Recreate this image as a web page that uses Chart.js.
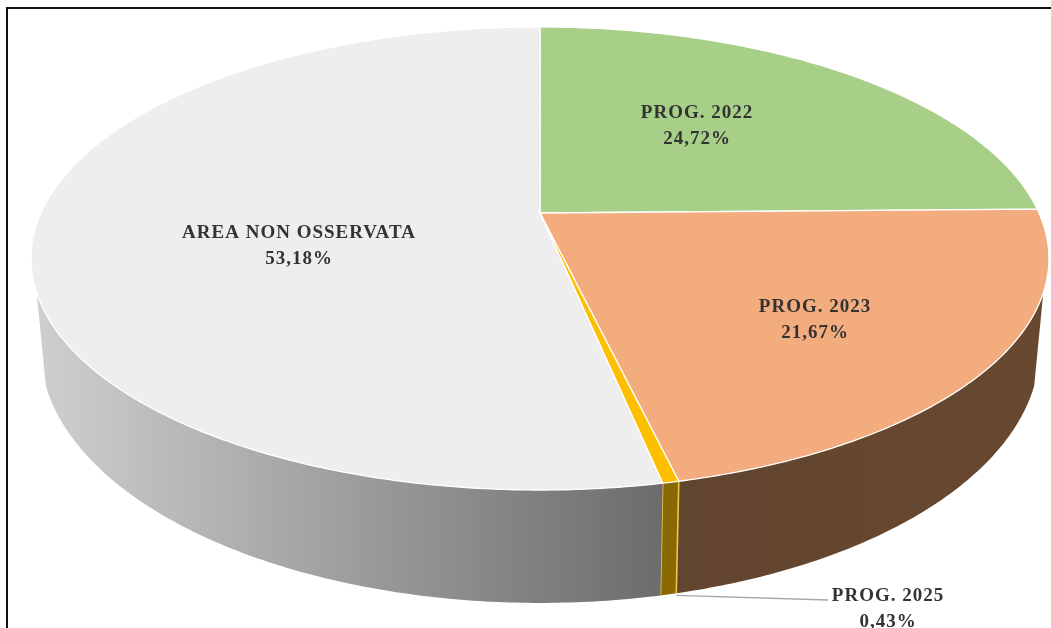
<!DOCTYPE html>
<html>
<head>
<meta charset="utf-8">
<script src="https://cdn.jsdelivr.net/npm/chart.js@4/dist/chart.umd.min.js"></script>
<style>
html,body{margin:0;padding:0;background:#fff;width:1051px;height:628px;overflow:hidden}
#wrap{position:relative;width:1051px;height:628px}
canvas{position:absolute;left:0;top:0;filter:blur(0.65px)}
#frame{position:absolute;left:6px;top:7px;width:1043px;height:630px;border:2px solid #111;box-sizing:content-box}
</style>
</head>
<body>
<div id="wrap"><canvas id="c" width="1051" height="628"></canvas><div id="frame"></div></div>
<script>
const categories = ['PROG. 2022', 'PROG. 2023', 'PROG. 2025', 'AREA NON OSSERVATA'];
const shares = [24.72, 21.67, 0.43, 53.18];
const topColors = ['#a8cf88', '#f2ac7d', '#fdbf00', '#eeeeee'];
const wallLeftColors = ['#5f6f4f', '#62452f', '#8a6a00', '#cfcfcf'];
const wallRightColors = ['#5f6f4f', '#68482f', '#8a6a00', '#6c6c6c'];
const labelAnchors = [[697, 126], [815, 320], [888, 609], [299, 246]];

// Perspective view of the pie disc
const topFace = {cx: 540, cy: 213, a: 499, b: 222.6, k: 0.1965};
const baseFace = {cx: 540, cy: 298, a: 490, b: 245, k: 0.1965};
const wallFrom = 19.6 * Math.PI / 180;
const wallTo = 160.4 * Math.PI / 180;

function project(f, ang) {
  const u = Math.cos(ang), v = Math.sin(ang), w = 1 - f.k * v;
  return [f.cx + f.a * u / w, f.cy + f.b * v / w];
}
function arcPoints(f, s, e) {
  const n = Math.max(2, Math.ceil((e - s) / 0.01)), pts = [];
  for (let i = 0; i <= n; i++) pts.push(project(f, s + (e - s) * i / n));
  return pts;
}

class Arc3D extends Chart.ArcElement {
  static id = 'arc3d';
  draw(ctx) {
    const {startAngle, endAngle} = this.getProps(['startAngle', 'endAngle'], true);
    const i = this.$context ? this.$context.dataIndex : 0;
    ctx.save();
    // side wall (front part only)
    const s = Math.max(startAngle, wallFrom), e = Math.min(endAngle, wallTo);
    if (e > s) {
      const t = arcPoints(topFace, s, e), b = arcPoints(baseFace, s, e).reverse();
      const all = t.concat(b), xs = all.map(p => p[0]);
      ctx.beginPath();
      all.forEach((p, j) => j ? ctx.lineTo(p[0], p[1]) : ctx.moveTo(p[0], p[1]));
      ctx.closePath();
      const g = ctx.createLinearGradient(Math.min(...xs), 0, Math.max(...xs), 0);
      g.addColorStop(0, wallLeftColors[i]);
      g.addColorStop(1, wallRightColors[i]);
      ctx.fillStyle = g;
      ctx.fill();
      if (categories[i] === 'PROG. 2025') {
        ctx.strokeStyle = '#eec64a';
        ctx.lineWidth = 1.6;
        [[t[0], b[b.length - 1]], [t[t.length - 1], b[0]]].forEach(l => {
          ctx.beginPath(); ctx.moveTo(l[0][0], l[0][1]); ctx.lineTo(l[1][0], l[1][1]); ctx.stroke();
        });
      }
    }
    // top face
    ctx.beginPath();
    ctx.moveTo(topFace.cx, topFace.cy);
    arcPoints(topFace, startAngle, endAngle).forEach(p => ctx.lineTo(p[0], p[1]));
    ctx.closePath();
    ctx.fillStyle = this.options.backgroundColor;
    ctx.fill();
    ctx.strokeStyle = this.options.borderColor;
    ctx.lineWidth = this.options.borderWidth;
    ctx.lineJoin = 'round';
    ctx.stroke();
    ctx.restore();
  }
}
class Pie3D extends Chart.PieController {
  static id = 'pie3d';
  static defaults = Object.assign({}, Chart.PieController.defaults, {dataElementType: 'arc3d'});
}
Chart.register(Arc3D, Pie3D);

const sliceLabels = {
  id: 'sliceLabels',
  afterDatasetsDraw(chart) {
    const ctx = chart.ctx, thin = chart.getDatasetMeta(0).data[2];
    ctx.save();
    // leader line for the thin slice
    ctx.strokeStyle = '#a6a6a6';
    ctx.lineWidth = 1.3;
    const m = project(baseFace, (thin.startAngle + thin.endAngle) / 2);
    ctx.beginPath();
    ctx.moveTo(m[0] + 8, m[1] + 1);
    ctx.lineTo(labelAnchors[2][0] - 60, labelAnchors[2][1] - 9);
    ctx.stroke();
    ctx.fillStyle = '#333333';
    ctx.font = 'bold 19px "Liberation Serif", serif';
    ctx.textAlign = 'center';
    ctx.textBaseline = 'middle';
    ctx.letterSpacing = '1px';
    categories.forEach((c, i) => {
      const [x, y] = labelAnchors[i];
      ctx.fillText(c, x, y - 13);
      ctx.fillText(shares[i].toFixed(2).replace('.', ',') + '%', x, y + 13);
    });
    ctx.restore();
  }
};

new Chart(document.getElementById('c'), {
  type: 'pie3d',
  data: {
    labels: categories,
    datasets: [{data: shares, backgroundColor: topColors, borderColor: '#ffffff', borderWidth: 1.3}]
  },
  options: {
    responsive: false,
    animation: false,
    events: [],
    plugins: {legend: {display: false}, tooltip: {enabled: false}}
  },
  plugins: [sliceLabels]
});
</script>
</body>
</html>
